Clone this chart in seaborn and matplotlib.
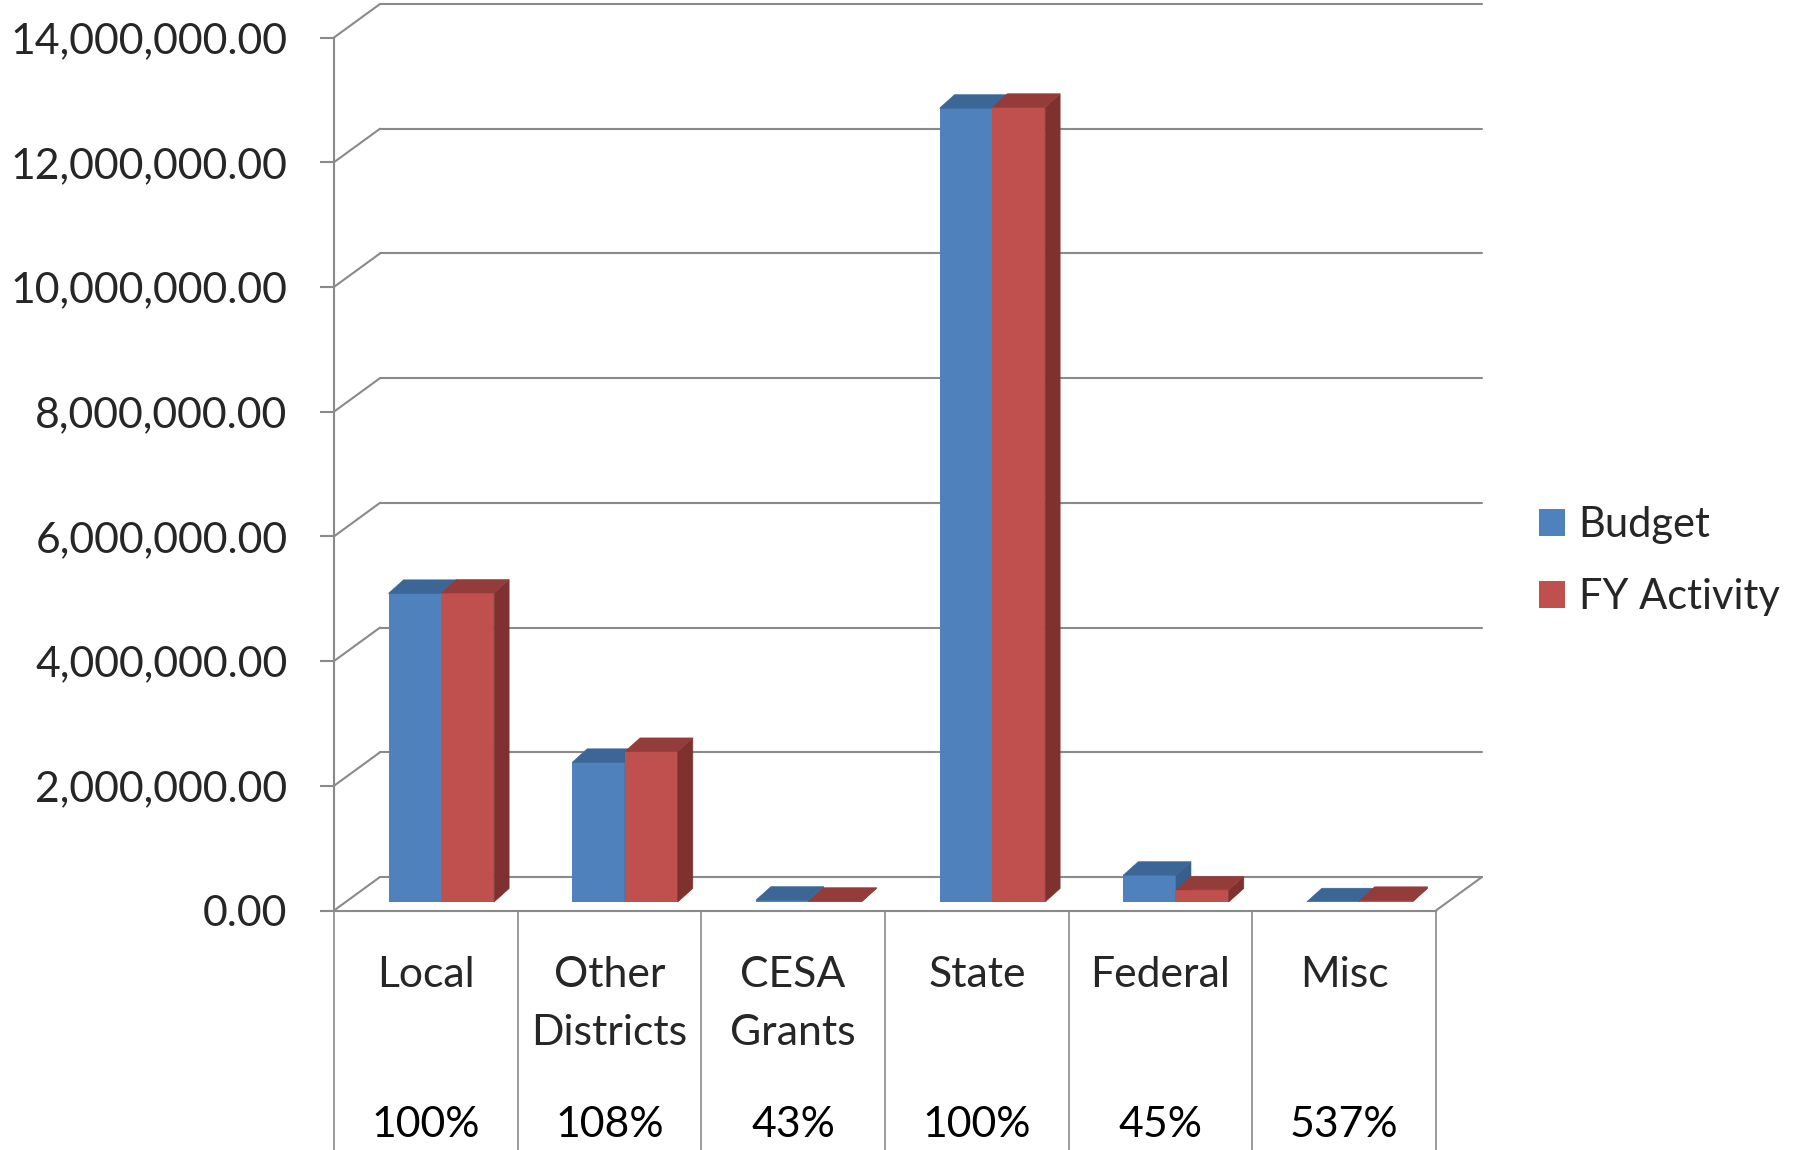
import numpy as np
import pandas as pd
import matplotlib
matplotlib.use("Agg")
import matplotlib.pyplot as plt
import seaborn as sns
from matplotlib.patches import Polygon, Patch
from matplotlib.lines import Line2D
from matplotlib.transforms import Affine2D, blended_transform_factory
from matplotlib.ticker import StrMethodFormatter

# ---------------- data ----------------
categories = ["Local", "Other\nDistricts", "CESA\nGrants", "State", "Federal", "Misc"]
budget = [4950000, 2240000, 30000, 12730000, 430000, 5000]
fy_activity = [4955000, 2415000, 12900, 12745000, 193500, 26850]
percent_labels = ["100%", "108%", "43%", "100%", "45%", "537%"]
series_names = ["Budget", "FY Activity"]
y_ticks = [0, 2000000, 4000000, 6000000, 8000000, 10000000, 12000000, 14000000]

# ---------------- style ----------------
BLUE, RED = "#4F81BD", "#C0504D"
BLUE_TOP, BLUE_SIDE = "#3C6696", "#375E8C"
RED_TOP, RED_SIDE = "#943C3A", "#7F312F"
GRID = "#8A8A8A"
FS = 30.8

sns.set_style("white")
plt.rcParams["font.family"] = ["Lato", "DejaVu Sans"]

W, H = 1801, 1150
fig = plt.figure(figsize=(W / 100, H / 100), dpi=100)
fig.patch.set_facecolor("white")
ax = fig.add_axes([334 / W, (H - 910.5) / H, 1102 / W, 873 / H])
ax.set_facecolor("none")

df = pd.DataFrame({
    "Category": categories * 2,
    "Series": [series_names[0]] * len(categories) + [series_names[1]] * len(categories),
    "Amount": budget + fy_activity,
})
sns.barplot(data=df, x="Category", y="Amount", hue="Series", order=categories,
            hue_order=series_names, palette=[BLUE, RED], width=0.575,
            saturation=1, linewidth=0, errorbar=None, legend=False, ax=ax)

ax.set_xlim(-0.5, len(categories) - 0.5)
ax.set_ylim(0, y_ticks[-1])

# pixel -> data offset helpers (oblique 3-D look)
px_x = ax.bbox.width / (len(categories))
px_y = ax.bbox.height / y_ticks[-1]
def off(dx, dy):
    return dx / px_x, dy / px_y

bx, by = off(15.5, 8.5)     # bars sit slightly behind the front plane
tx, ty = off(15, 13.5)      # bar depth
kx, ky = off(46, 33.5)      # floor / wall depth

# 3-D faces of the bars
bars = sorted(ax.patches, key=lambda p: p.get_x())
for k, p in enumerate(bars):
    is_blue = np.allclose(p.get_facecolor()[:3], matplotlib.colors.to_rgb(BLUE), atol=0.02)
    top_c, side_c = (BLUE_TOP, BLUE_SIDE) if is_blue else (RED_TOP, RED_SIDE)
    z = 3 + k
    p.set_transform(Affine2D().translate(bx, by) + ax.transData)
    p.set_zorder(z)
    p.set_clip_on(False)
    x0 = p.get_x() + bx
    x1 = x0 + p.get_width()
    y0 = p.get_y() + by
    y1 = y0 + p.get_height()
    top = Polygon([(x0, y1), (x1, y1), (x1 + tx, y1 + ty), (x0 + tx, y1 + ty)],
                  closed=True, facecolor=top_c, edgecolor=top_c, linewidth=0.4,
                  zorder=z, clip_on=False)
    side = Polygon([(x1, y0), (x1, y1), (x1 + tx, y1 + ty), (x1 + tx, y0 + ty)],
                   closed=True, facecolor=side_c, edgecolor=side_c, linewidth=0.4,
                   zorder=z, clip_on=False)
    ax.add_patch(side)
    ax.add_patch(top)

# walls / gridlines
x_left, x_right = -0.5, len(categories) - 0.5
for v in y_ticks:
    ax.add_line(Line2D([x_left, x_left + kx], [v, v + ky], color=GRID, lw=1.5,
                       zorder=1, clip_on=False))
    ax.add_line(Line2D([x_left + kx, x_right + kx], [v + ky, v + ky], color=GRID,
                       lw=1.5, zorder=1, clip_on=False))
ax.add_line(Line2D([x_right, x_right + kx], [0, ky], color=GRID, lw=1.5,
                   zorder=1, clip_on=False))

# category separators below the floor
sep_tr = blended_transform_factory(ax.transData, fig.transFigure)
for i in range(len(categories) + 1):
    ax.add_line(Line2D([i - 0.5, i - 0.5], [(H - 911) / H, 0], color=GRID, lw=1.2,
                       transform=sep_tr, clip_on=False, zorder=1))

# spines & ticks
for s in ["top", "right"]:
    ax.spines[s].set_visible(False)
for s in ["left", "bottom"]:
    ax.spines[s].set_color(GRID)
    ax.spines[s].set_linewidth(1.5)
    ax.spines[s].set_zorder(2)

ax.set_yticks(y_ticks)
ax.yaxis.set_major_formatter(StrMethodFormatter("{x:,.2f}"))
ax.tick_params(axis="y", left=True, length=10, width=1.5, color=GRID, pad=23.5,
               labelsize=FS, direction="out")
ax.tick_params(axis="x", bottom=False, length=0, pad=33, labelsize=FS)
for lbl in ax.get_xticklabels():
    lbl.set_linespacing(1.64)
ax.set_xlabel("")
ax.set_ylabel("")

# percentage row
for i, pct in enumerate(percent_labels):
    ax.text(i, (H - 1137) / H, pct, transform=sep_tr, ha="center", va="baseline",
            fontsize=FS, color="black")

# legend
handles = [Patch(facecolor=BLUE, edgecolor="none"), Patch(facecolor=RED, edgecolor="none")]
ax.legend(handles, series_names, loc="center left",
          bbox_to_anchor=(1539 / W, (H - 561) / H), bbox_transform=fig.transFigure,
          frameon=False, fontsize=30, handlelength=0.62, handleheight=0.62,
          handletextpad=0.33, labelspacing=0.8, borderpad=0, borderaxespad=0)

fig.savefig("out.png", dpi=100, facecolor="white")
